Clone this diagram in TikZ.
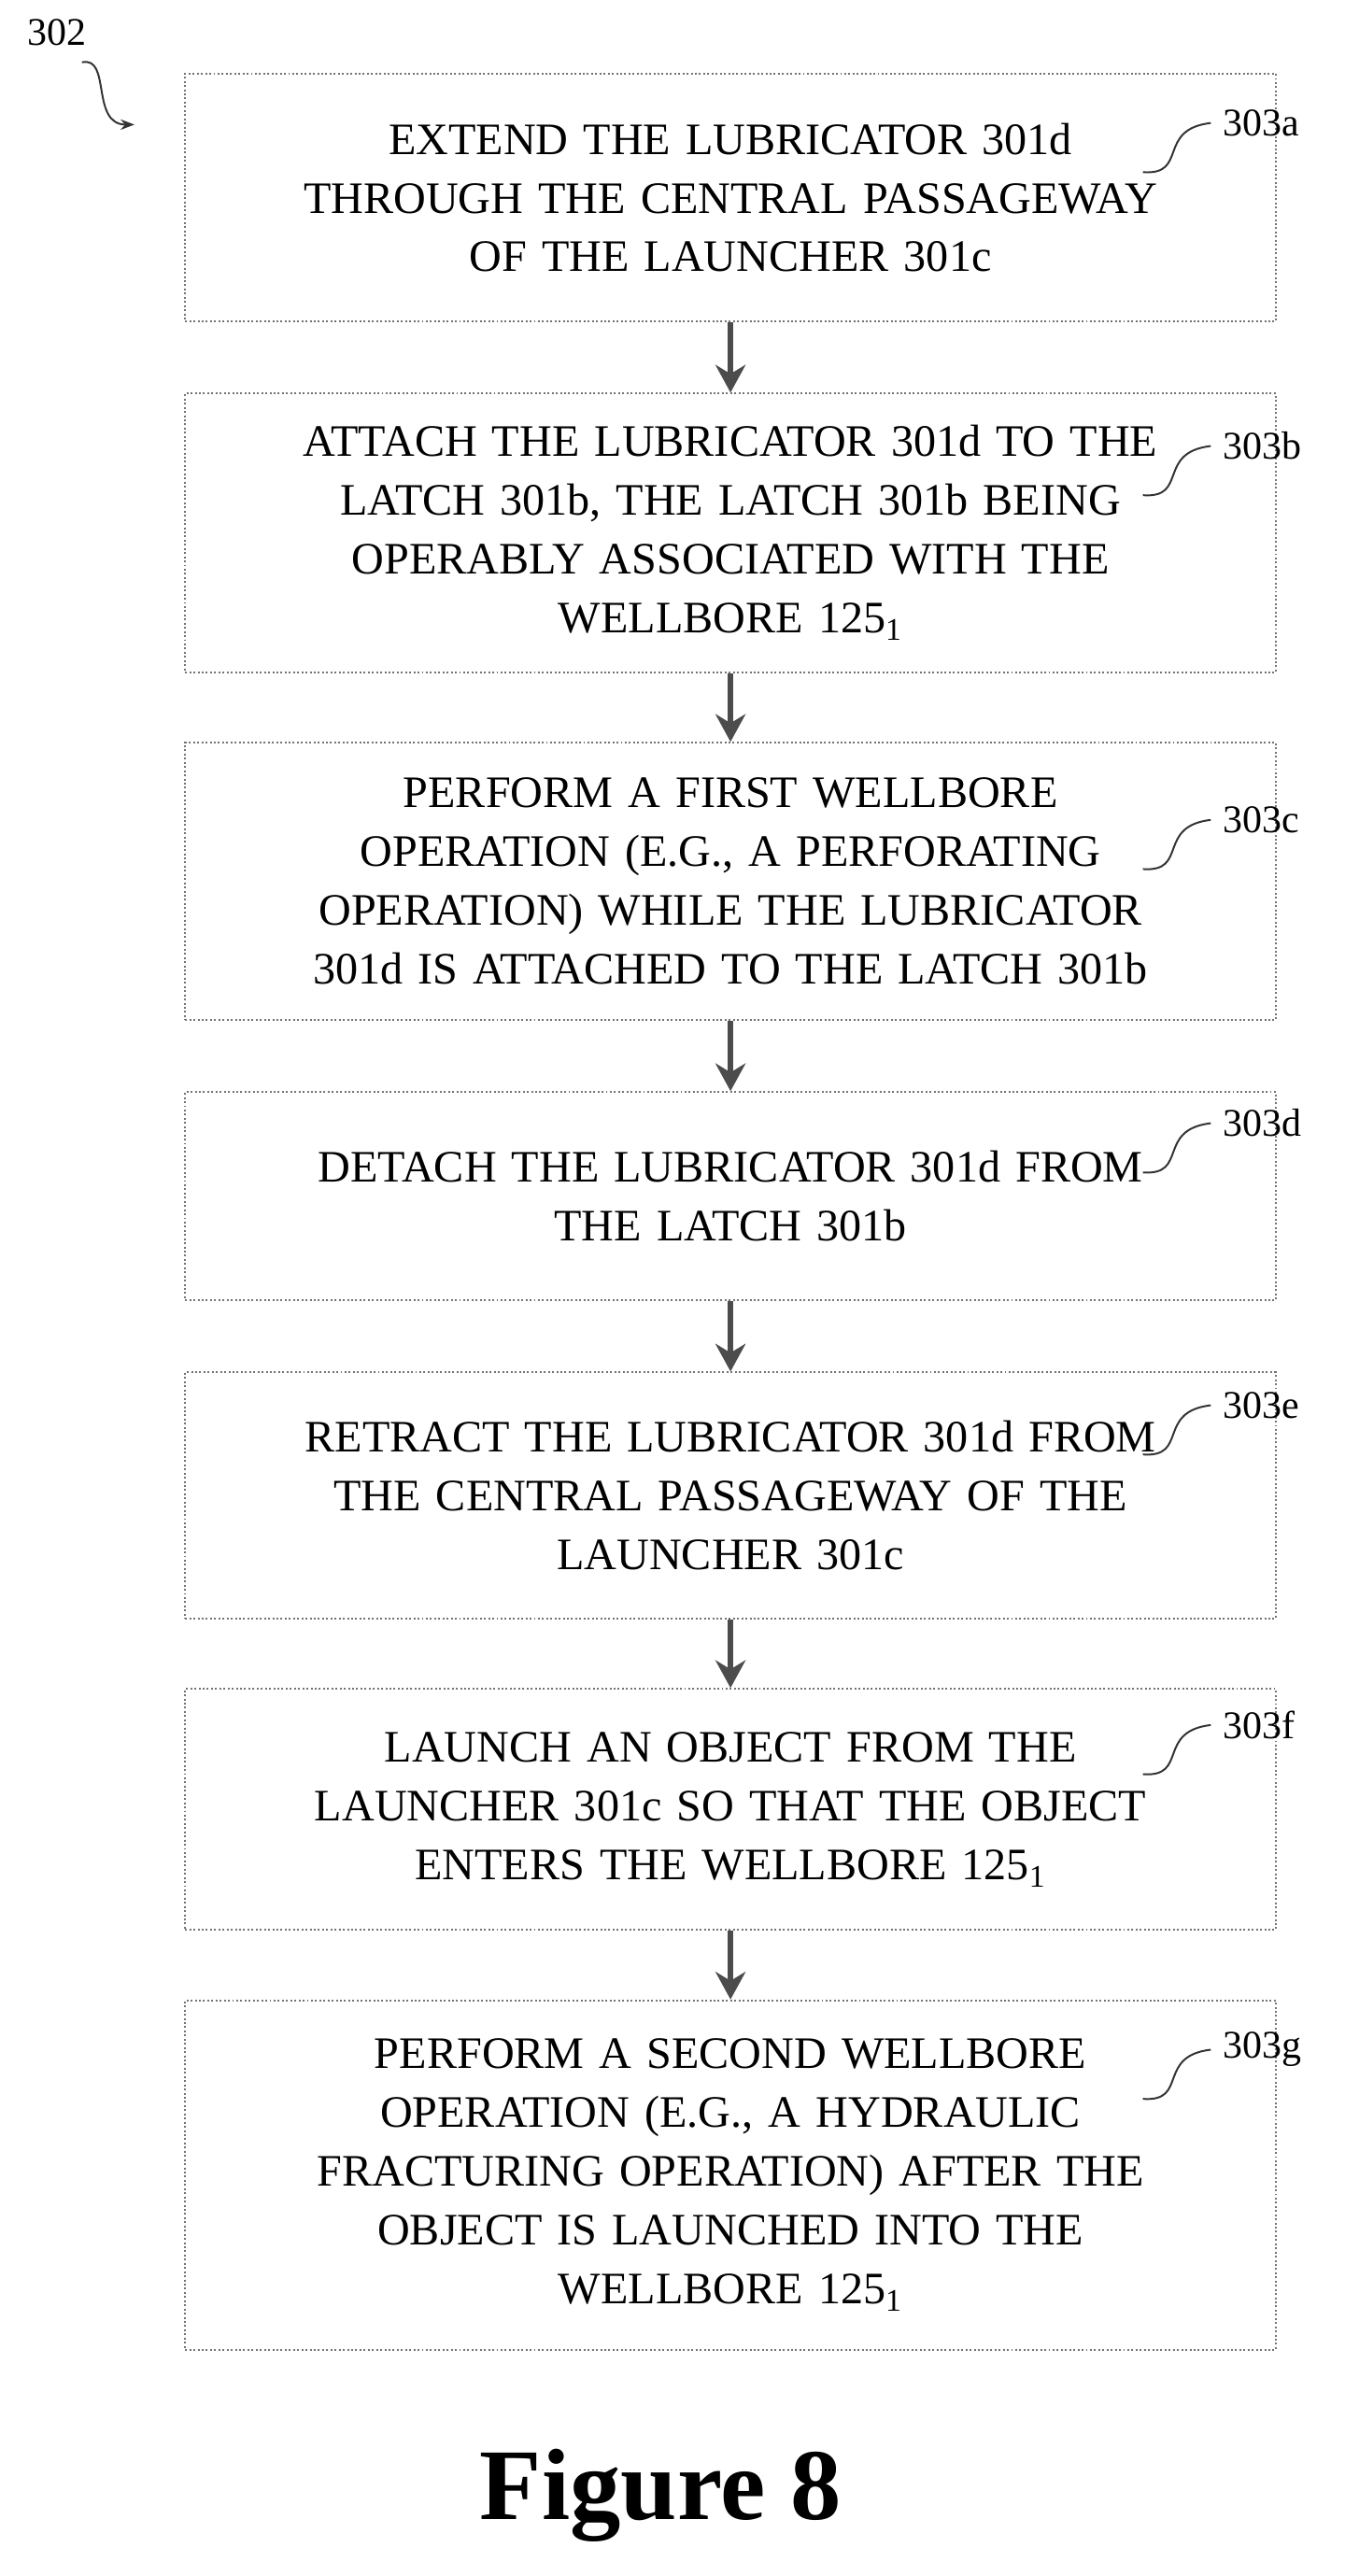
\documentclass[tikz,border=0pt]{standalone}
\usepackage{fontspec}
\setmainfont{Liberation Serif}
\usetikzlibrary{arrows.meta}
\tikzset{
  stage/.style={draw=black!55,densely dotted,thick,minimum width=16.625cm,text width=15.5cm,align=center,
    font=\fontsize{19.5}{25.5}\selectfont},
  ref/.style={font=\fontsize{17}{20}\selectfont,inner sep=1pt},
  flow/.style={line width=2.4pt,black!70,-{Stealth[length=12pt,width=13pt]}},
  wiggle/.style={thick,black!80}
}
\begin{document}
\begin{tikzpicture}[x=0.025cm,y=-0.025cm]
\useasboundingbox (0,0) rectangle (820,1571);
% stages
\node[stage,minimum height=3.775cm] (s1) at (445.5,120.5) {EXTEND THE LUBRICATOR 301d\\THROUGH THE CENTRAL PASSAGEWAY\\OF THE LAUNCHER 301c};
\node[stage,minimum height=4.25cm] (s2) at (445.5,325) {ATTACH THE LUBRICATOR 301d TO THE\\LATCH 301b, THE LATCH 301b BEING\\OPERABLY ASSOCIATED WITH THE\\WELLBORE 125\textsubscript{1}};
\node[stage,minimum height=4.225cm] (s3) at (445.5,537.5) {PERFORM A FIRST WELLBORE\\OPERATION (E.G., A PERFORATING\\OPERATION) WHILE THE LUBRICATOR\\301d IS ATTACHED TO THE LATCH 301b};
\node[stage,minimum height=3.175cm] (s4) at (445.5,729.5) {DETACH THE LUBRICATOR 301d FROM\\THE LATCH 301b};
\node[stage,minimum height=3.75cm] (s5) at (445.5,912) {RETRACT THE LUBRICATOR 301d FROM\\THE CENTRAL PASSAGEWAY OF THE\\LAUNCHER 301c};
\node[stage,minimum height=3.675cm] (s6) at (445.5,1103.5) {LAUNCH AN OBJECT FROM THE\\LAUNCHER 301c SO THAT THE OBJECT\\ENTERS THE WELLBORE 125\textsubscript{1}};
\node[stage,minimum height=5.325cm] (s7) at (445.5,1326.5) {PERFORM A SECOND WELLBORE\\OPERATION (E.G., A HYDRAULIC\\FRACTURING OPERATION) AFTER THE\\OBJECT IS LAUNCHED INTO THE\\WELLBORE 125\textsubscript{1}};
% arrows
\foreach \a/\b in {s1/s2,s2/s3,s3/s4,s4/s5,s5/s6,s6/s7}
  \draw[flow] (\a) -- (\b);
% reference labels
\foreach \s/\l/\y in {s1/a/75,s2/b/272,s3/c/500,s4/d/685,s5/e/857,s6/f/1052,s7/g/1250}{
  \node[ref,anchor=west] (r\l) at (744,\y) {303\l};
  \draw[wiggle] (697,\y+30) .. controls (725,\y+32) and (705,\y+4) .. ([xshift=-4pt]r\l.west);
}
\node[ref] (fig302) at (35,20) {302};
\coordinate (tip302) at (82,76);
\draw[wiggle,-{Stealth[length=6pt]}] (50,38) .. controls (68,34) and (55,76) .. (tip302);
\node[font=\bfseries\fontsize{44}{50}\selectfont] (fig) at (403,1522) {Figure 8};
\end{tikzpicture}
\end{document}
